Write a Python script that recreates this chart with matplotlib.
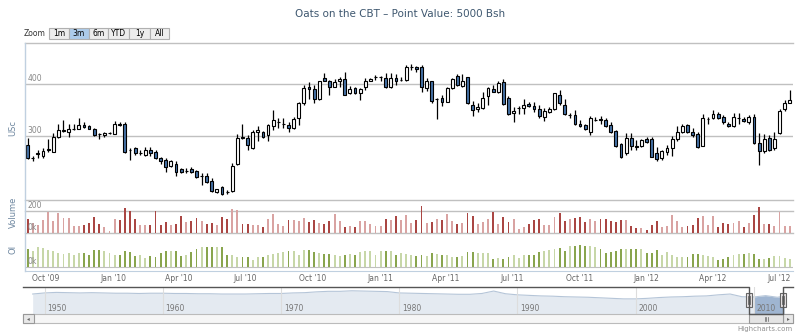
import matplotlib
matplotlib.use('Agg')
import matplotlib.pyplot as plt
import matplotlib.dates as mdates
from matplotlib.patches import Rectangle
from matplotlib.transforms import blended_transform_factory
import numpy as np
import pandas as pd

W, H = 800, 333

# weekly oats candles (USc)
weeks = pd.date_range('2009-09-06', periods=150, freq='7D')
opens = [283, 257, 266, 262, 274, 270, 299, 310, 308, 313, 313, 322, 319, 313, 304, 302, 305, 304, 323, 323,
         274, 276, 267, 263, 274, 270, 258, 254, 242, 247, 236, 233, 236, 233, 223, 223, 214, 193, 201, 193,
         194, 247, 298, 296, 276, 307, 307, 301, 320, 326, 323, 321, 316, 335, 363, 394, 390, 371, 412, 406,
         395, 406, 409, 382, 392, 382, 394, 406, 413, 414, 412, 394, 412, 408, 408, 433, 432, 432, 393, 406,
         371, 374, 366, 392, 415, 397, 413, 360, 351, 353, 376, 390, 385, 403, 374, 344, 353, 353, 361, 358,
         352, 337, 347, 352, 379, 360, 341, 340, 324, 321, 308, 331, 333, 330, 321, 310, 284, 267, 297, 280,
         281, 294, 294, 268, 257, 270, 276, 294, 307, 321, 308, 303, 281, 333, 334, 342, 337, 323, 319, 335,
         332, 327, 336, 286, 272, 297, 277, 305, 351, 364]
highs = [297, 261, 273, 276, 294, 305, 324, 331, 324, 323, 334, 326, 322, 315, 306, 308, 308, 328, 326, 326,
         276, 278, 273, 278, 278, 273, 260, 257, 253, 251, 239, 238, 240, 235, 228, 229, 219, 199, 204, 196,
         249, 304, 323, 302, 312, 319, 310, 324, 350, 335, 334, 326, 337, 366, 399, 403, 398, 406, 421, 408,
         410, 414, 424, 397, 395, 393, 411, 412, 417, 416, 421, 421, 419, 414, 437, 438, 434, 437, 411, 406,
         374, 379, 395, 411, 419, 419, 414, 368, 363, 385, 394, 398, 406, 409, 376, 356, 357, 371, 366, 366,
         360, 353, 356, 383, 389, 372, 344, 350, 331, 324, 339, 337, 338, 334, 326, 312, 287, 305, 305, 292,
         295, 299, 299, 279, 273, 283, 300, 319, 324, 324, 315, 308, 342, 336, 350, 346, 340, 326, 345, 345,
         337, 340, 342, 305, 304, 302, 308, 351, 370, 388]
lows = [255, 251, 257, 257, 270, 270, 297, 308, 299, 311, 313, 315, 313, 300, 294, 299, 303, 304, 320, 267,
        254, 263, 263, 262, 262, 255, 247, 231, 240, 223, 228, 228, 228, 219, 206, 210, 193, 190, 187, 188,
        192, 245, 295, 274, 275, 290, 296, 290, 312, 315, 316, 308, 313, 322, 360, 372, 364, 369, 405, 379,
        394, 395, 378, 381, 380, 369, 389, 405, 408, 405, 393, 393, 398, 405, 406, 427, 424, 384, 387, 364,
        333, 358, 365, 390, 397, 395, 361, 339, 347, 352, 360, 384, 382, 360, 341, 326, 342, 342, 356, 347,
        335, 329, 344, 350, 360, 340, 334, 322, 318, 312, 302, 328, 323, 318, 305, 279, 258, 263, 273, 274,
        279, 286, 259, 251, 254, 263, 262, 291, 305, 305, 299, 276, 281, 324, 332, 332, 324, 318, 318, 324,
        326, 324, 284, 244, 268, 272, 274, 304, 349, 363]
closes = [257, 257, 267, 272, 275, 299, 312, 311, 313, 314, 322, 317, 314, 302, 303, 306, 305, 324, 321, 270,
          273, 267, 267, 273, 268, 257, 251, 240, 251, 231, 230, 233, 231, 222, 223, 212, 195, 198, 188, 192,
          242, 297, 297, 282, 307, 312, 299, 321, 330, 326, 323, 315, 332, 363, 392, 390, 371, 405, 406, 394,
          403, 410, 379, 390, 382, 390, 406, 410, 413, 414, 394, 412, 406, 408, 432, 433, 428, 395, 406, 368,
          371, 366, 392, 410, 399, 406, 363, 350, 355, 374, 392, 385, 401, 362, 342, 348, 353, 360, 358, 351,
          339, 349, 352, 382, 363, 342, 341, 324, 320, 313, 335, 331, 330, 320, 308, 281, 260, 296, 281, 279,
          292, 289, 260, 255, 271, 276, 294, 308, 319, 308, 302, 279, 334, 333, 342, 335, 326, 319, 337, 335,
          329, 336, 286, 272, 294, 274, 295, 348, 363, 369]
volume = [129, 94, 77, 114, 186, 106, 180, 134, 137, 66, 63, 77, 94, 149, 86, 57, 20, 129, 120, 223,
          200, 129, 77, 77, 77, 194, 77, 100, 77, 86, 151, 100, 106, 137, 106, 86, 91, 71, 143, 129,
          214, 209, 86, 80, 77, 77, 57, 129, 171, 80, 66, 114, 114, 109, 137, 100, 120, 94, 86, 109,
          171, 106, 57, 66, 57, 106, 106, 80, 63, 63, 129, 114, 151, 114, 163, 94, 114, 243, 94, 100,
          129, 114, 171, 106, 80, 91, 180, 151, 80, 100, 129, 186, 80, 149, 100, 129, 37, 57, 80, 114,
          129, 71, 71, 143, 180, 109, 129, 134, 143, 100, 129, 106, 129, 129, 106, 100, 114, 120, 63, 51,
          51, 29, 71, 106, 57, 63, 166, 109, 57, 63, 77, 134, 157, 71, 157, 57, 94, 80, 94, 106,
          57, 94, 163, 234, 80, 80, 63, 191, 63, 63]
open_interest = [55, 47, 60, 57, 50, 47, 43, 40, 42, 37, 43, 43, 37, 50, 50, 48, 43, 37, 37, 47,
                 45, 32, 37, 27, 32, 29, 43, 49, 49, 49, 32, 35, 45, 55, 60, 60, 60, 60, 60, 37,
                 37, 30, 30, 30, 22, 29, 30, 37, 40, 43, 45, 47, 47, 37, 50, 50, 45, 43, 40, 40,
                 35, 33, 37, 40, 35, 45, 48, 48, 37, 48, 47, 47, 37, 43, 40, 35, 32, 35, 33, 43,
                 40, 37, 35, 30, 30, 32, 45, 45, 43, 43, 42, 25, 28, 25, 30, 37, 28, 35, 37, 37,
                 45, 48, 50, 55, 58, 48, 62, 62, 65, 63, 62, 60, 55, 42, 45, 48, 55, 55, 55, 53,
                 53, 43, 43, 50, 37, 45, 35, 30, 30, 30, 40, 38, 35, 33, 30, 20, 23, 30, 35, 40,
                 40, 43, 40, 25, 25, 27, 33, 32, 28, 23]

# navigator: long-run series, relative level of the pane
nav_years = list(range(1949, 2013)) + [2012.55]
nav_level = [74, 78, 80, 79, 78, 79, 78, 77, 77, 76, 77, 77, 76, 76, 75, 75, 74, 74, 74, 75,
             76, 76, 78, 79, 82, 84, 84, 86, 85, 84, 83, 78, 77, 76, 75, 74, 73, 73, 76, 85,
             75, 71, 69, 67, 66, 64, 63, 62, 60, 58, 56, 56, 58, 61, 63, 64, 66, 67, 71, 74,
             64, 63, 68, 62, 66]

buttons = ['1m', '3m', '6m', 'YTD', '1y', 'All']

BLUE = '#4572A7'
RED = '#AA4643'
GREEN = '#89A54E'
GRID = '#C0C0C0'
AXIS = '#C0D0E0'
LABEL = '#888888'
TITLE_C = '#6D869F'

fig = plt.figure(figsize=(8, 3.33), dpi=100)


def rect(x0, y0, x1, y1):
    return [x0 / W, 1 - y1 / H, (x1 - x0) / W, (y1 - y0) / H]


x = mdates.date2num(weeks)
o, h, l, c = (np.array(v, dtype=float) for v in (opens, highs, lows, closes))
down = c < o
xl = (mdates.date2num(pd.Timestamp('2009-09-02 08:00')), mdates.date2num(pd.Timestamp('2012-07-19 10:00')))

ax = fig.add_axes(rect(25, 43, 793, 198))
ax_v = fig.add_axes(rect(25, 199.5, 793, 233.3))
ax_oi = fig.add_axes(rect(25, 237, 793, 271))
for a in (ax, ax_v, ax_oi):
    a.set_xlim(*xl)
    for s in a.spines.values():
        s.set_visible(False)
    a.set_yticks([])
    a.tick_params(axis='x', length=0, labelbottom=False)

# candles
ax.set_ylim(180.8, 478.8)
for g in (300, 400):
    ax.axhline(g, color=GRID, lw=1, zorder=1)
ax.axhline(478.8, color=GRID, lw=1, zorder=1, clip_on=False)
ax.vlines(x, l, h, color='#000000', lw=0.9, zorder=2)
ax.bar(x, np.abs(c - o), bottom=np.minimum(o, c), width=3.9, color=np.where(down, BLUE, 'white'),
       edgecolor='#000000', lw=0.8, zorder=3)
tr = blended_transform_factory(ax.transAxes, ax.transData)
for g in (300, 400):
    ax.text(0.003, g + 2, str(g), transform=tr, fontsize=5.5, color=LABEL, va='bottom', ha='left')

# volume
ax_v.set_ylim(0, 300)
for g in (0, 200, 300):
    ax_v.axhline(g, color=GRID, lw=1, zorder=1, clip_on=False)
ax_v.bar(x, volume, width=2.6, color=np.where(down, RED, '#D9A3A2'), zorder=2)
tr = blended_transform_factory(ax_v.transAxes, ax_v.transData)
ax_v.text(0.003, 206, '200', transform=tr, fontsize=5.5, color=LABEL, va='bottom')
ax_v.text(0.003, 8, '0k', transform=tr, fontsize=5.5, color=LABEL, va='bottom')

# open interest
ax_oi.set_ylim(-12, 90)
ax_oi.axhline(0, color=GRID, lw=0.8, zorder=1)
ax_oi.bar(x, open_interest, width=2.6, color=np.where(down, GREEN, '#C7D7A8'), zorder=2)
tr = blended_transform_factory(ax_oi.transAxes, ax_oi.transData)
ax_oi.text(0.003, 3, '0k', transform=tr, fontsize=5.5, color=LABEL, va='bottom')
ax_oi.spines['bottom'].set_visible(True)
ax_oi.spines['bottom'].set_color(AXIS)
ax_oi.xaxis.set_major_locator(mdates.MonthLocator(bymonth=[1, 4, 7, 10]))
ax_oi.xaxis.set_major_formatter(mdates.DateFormatter("%b '%y"))
ax_oi.tick_params(axis='x', length=0, labelbottom=True, labelsize=5.5,
                  labelcolor='#666666', pad=2)

# navigator
nav = fig.add_axes(rect(25, 287, 793, 314))
nav.set_xlim(1948.35, 2013.32)
nav.set_ylim(0, 100)
nav.axis('off')
ny = np.array(nav_years, dtype=float)
nl = np.array(nav_level, dtype=float)
sel = (2009.67, 2012.55)
nav.fill_between(ny, nl, 0, color='#E4EAF1', lw=0)
nav.plot(ny, nl, color='#B5C5D8', lw=0.8)
m = ny >= sel[0] - 1
nav.fill_between(ny[m], nl[m], 0, where=ny[m] >= sel[0] - 0.3, color='#9FB5D1', lw=0)
for yr in range(1950, 2011, 10):
    nav.axvline(yr, color='#DDDDDD', lw=0.8)
    nav.text(yr + 0.25, 22, str(yr), fontsize=5.5, color='#777777', va='center', ha='left')

# overlay for chrome
ov = fig.add_axes([0, 0, 1, 1], zorder=10)
ov.set_xlim(0, W)
ov.set_ylim(H, 0)
ov.axis('off')
ov.patch.set_visible(False)

ov.text(400, 14, 'Oats on the CBT \u2013 Point Value: 5000 Bsh', fontsize=7.5, color='#3E576F',
        ha='center', va='center')
ov.text(24, 34, 'Zoom', fontsize=5.5, color='#333333', ha='left', va='center')
edges = [49, 69, 89, 108, 129, 150, 169]
for i, b in enumerate(buttons):
    ov.add_patch(Rectangle((edges[i], 27.7), edges[i + 1] - edges[i], 11.6,
                           facecolor='#ACCBEA' if b == '3m' else '#EDEDED', edgecolor='#B0B0B0', lw=0.8))
    ov.text((edges[i] + edges[i + 1]) / 2, 33.7, b, fontsize=5.5, color='#000000', ha='center', va='center')

ov.plot([25, 25], [43, 271], color=AXIS, lw=1)
ov.text(13, 128, 'USc', rotation=90, fontsize=6, color=TITLE_C, ha='center', va='center')
ov.text(13, 212, 'Volume', rotation=90, fontsize=6, color=TITLE_C, ha='center', va='center')
ov.text(13, 249, 'OI', rotation=90, fontsize=6, color=TITLE_C, ha='center', va='center')

# navigator outline and handles
hx0, hx1 = 749, 783
ov.plot([23, hx0, hx0, hx1, hx1, 793], [287, 287, 314, 314, 287, 287], color='#555555', lw=1)
for hx in (hx0, hx1):
    ov.add_patch(Rectangle((hx - 3, 293), 6, 14, facecolor='#EBE7E8', edgecolor='#666666', lw=0.8))
    ov.plot([hx - 1, hx - 1], [296, 304], color='#666666', lw=0.6)
    ov.plot([hx + 1, hx + 1], [296, 304], color='#666666', lw=0.6)

# scrollbar
ov.add_patch(Rectangle((23, 314.3), 770, 8.3, facecolor='#F6F6F6', edgecolor='#BBBBBB', lw=0.8))
ov.add_patch(Rectangle((23, 314.3), 11, 8.3, facecolor='#E8E8E8', edgecolor='#999999', lw=0.8))
ov.add_patch(Rectangle((783, 314.3), 10, 8.3, facecolor='#E8E8E8', edgecolor='#999999', lw=0.8))
ov.add_patch(Rectangle((hx0, 314.3), hx1 - hx0, 8.3, facecolor='#E4E4E4', edgecolor='#999999', lw=0.8))
ov.text(28.5, 318.5, '\u25c2', fontsize=4, color='#666666', ha='center', va='center')
ov.text(788, 318.5, '\u25b8', fontsize=4, color='#666666', ha='center', va='center')
for dx in (-1.5, 0, 1.5):
    ov.plot([(hx0 + hx1) / 2 + dx] * 2, [316.5, 320.5], color='#666666', lw=0.5)

ov.text(793, 328.5, 'Highcharts.com', fontsize=5, color='#909090', ha='right', va='center')

fig.savefig('out.png', dpi=100)
